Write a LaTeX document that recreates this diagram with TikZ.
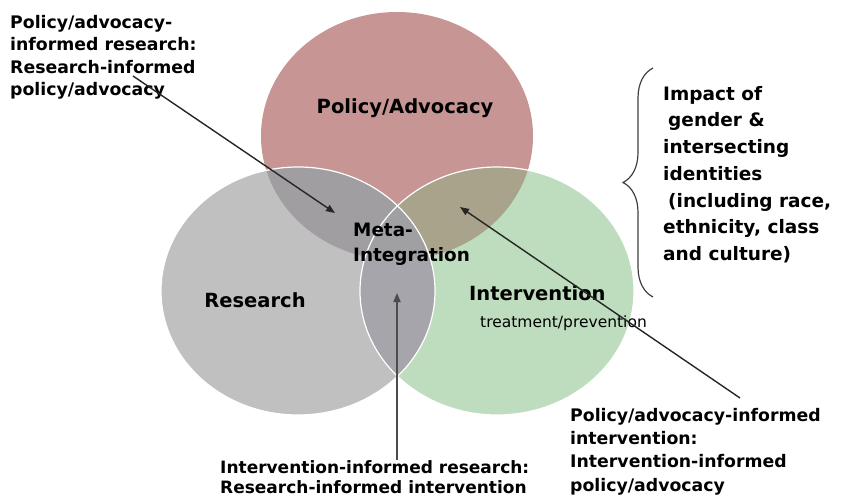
\documentclass[tikz,border=0pt]{standalone}
\usepackage{fontspec}
\setmainfont{DejaVu Sans}
\usetikzlibrary{arrows.meta,decorations.pathreplacing}

\definecolor{policyred}{RGB}{200,149,149}
\definecolor{researchgray}{RGB}{192,192,192}
\definecolor{interventiongreen}{RGB}{190,220,190}
\definecolor{lensPR}{RGB}{160,158,161}
\definecolor{lensPI}{RGB}{170,163,140}
\definecolor{lensRI}{RGB}{166,165,172}
\definecolor{lensall}{RGB}{160,159,163}

\newcommand\policyarea{(397,136) ellipse [x radius=136pt, y radius=124pt]}
\newcommand\researcharea{(298,291) ellipse [x radius=137pt, y radius=124pt]}
\newcommand\interventionarea{(497,291) ellipse [x radius=137pt, y radius=124pt]}

\begin{document}
\begin{tikzpicture}[x=1pt, y=-1pt,
    venntext/.style={inner sep=0pt, font=\bfseries\fontsize{19.5}{23}\selectfont},
    note/.style={align=left, inner sep=0pt, anchor=north west, font=\bfseries\fontsize{17.3}{22.5}\selectfont},
    subtext/.style={inner sep=0pt, anchor=west, font=\fontsize{15.5}{18}\selectfont},
    link/.style={-{Triangle[length=9pt, width=7pt]}, line width=1.4pt, black!85},
    rim/.style={draw=white, line width=1.2pt}
]
\useasboundingbox (0,0) rectangle (842,497);

% the three circles and their overlaps
\fill[policyred] \policyarea;
\fill[researchgray] \researcharea;
\fill[interventiongreen] \interventionarea;
\begin{scope}
    \clip \policyarea;
    \fill[lensPR] \researcharea;
    \fill[lensPI] \interventionarea;
\end{scope}
\begin{scope}
    \clip \researcharea;
    \fill[lensRI] \interventionarea;
    \clip \interventionarea;
    \fill[lensall] \policyarea;
\end{scope}
\draw[rim] \researcharea;
\draw[rim] \interventionarea;

\node[venntext] (policy) at (405,108) {Policy/Advocacy};
\node[venntext] (research) at (255,300) {Research};
\node[venntext, anchor=west] (intervention) at (469,293) {Intervention};
\node[subtext] (treatment) at (480,323) {treatment/prevention};
\node[note, font=\bfseries\fontsize{18.4}{25}\selectfont] (meta) at (353,223) {Meta-\\Integration};

\node[note, font=\bfseries\fontsize{18.5}{26.7}\selectfont] (impact) at (663,86)
    {Impact of\\\hspace*{5pt}gender \&\\intersecting\\identities\\\hspace*{5pt}(including race,\\ethnicity, class\\and culture)};
\draw[decorate, decoration={brace, amplitude=30pt}, line width=1.2pt, black!75] (653,297) -- (653,68);

\node[note] (prnote) at (10,15) {Policy/advocacy-\\informed research:\\Research-informed\\policy/advocacy};
\node[note, font=\bfseries\fontsize{17}{20}\selectfont] (irnote) at (220,460) {Intervention-informed research:\\Research-informed intervention};
\node[note, font=\bfseries\fontsize{17.3}{23.3}\selectfont] (pinote) at (570,408) {Policy/advocacy-informed\\intervention:\\Intervention-informed\\policy/advocacy};

\coordinate (prfrom) at (133,76);
\coordinate (prtip) at (335,213);
\coordinate (irtip) at (397,293);
\coordinate (pifrom) at (740,398);
\coordinate (pitip) at (460,207);
\draw[link] (prfrom) -- (prtip);
\draw[link, black!70, line width=1.8pt] (irnote.north -| irtip) -- (irtip);
\draw[link] (pifrom) -- (pitip);
\end{tikzpicture}
\end{document}
